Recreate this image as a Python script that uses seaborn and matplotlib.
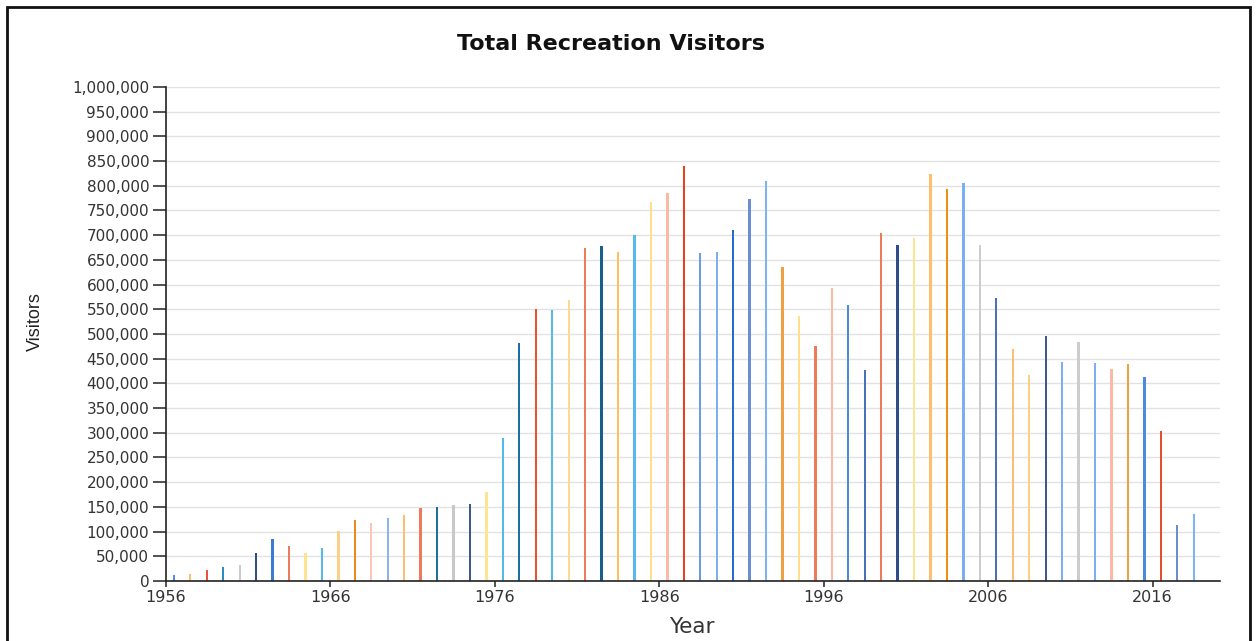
import numpy as np
import pandas as pd
import matplotlib
matplotlib.use("Agg")
import matplotlib.pyplot as plt
from matplotlib.patches import Rectangle
from matplotlib.ticker import FuncFormatter, MultipleLocator
import seaborn as sns

# Annual recreation visits
years = list(range(1956, 2019))
visitors = [
    13000, 15000, 22000, 27500, 32000, 57000, 86000, 71500, 57000, 67500,
    102000, 124000, 117000, 128000, 134500, 148000, 150500, 154500, 156500, 181000,
    289000, 482000, 550500, 549500, 568000, 674500, 677500, 666500, 699500, 767000,
    786000, 841000, 664500, 666500, 711000, 774000, 809000, 635000, 537000, 476000,
    593000, 558000, 426500, 704500, 679500, 693500, 823500, 794500, 805000, 679500,
    572500, 470000, 417000, 495000, 443000, 484500, 441000, 428500, 439000, 413000,
    304000, 114000, 135000,
]

# One colour per year
bar_colors = [
    "#4a8ee8", "#fdbf6f", "#e8553a", "#2b8cbe", "#cccccc", "#2f4f86", "#3a7bd5", "#ec7b5c",
    "#fee391", "#56b8ec", "#fdd08a", "#ea8a1c", "#fcc5b5", "#8ab4f0", "#fdbf6f", "#ec7b5c",
    "#1f6fa0", "#c8c8c8", "#3b5a8a", "#fee391", "#52b9ec", "#1b6fa8", "#f0502a", "#56b8ec",
    "#fdd890", "#ec7b5c", "#1a5f8a", "#fdbf5f", "#56b8ec", "#fde08a", "#fdb9a5", "#e8401a",
    "#6a9be8", "#7ab0f0", "#2a6ad0", "#6a8fcf", "#7ab4f5", "#f0a040", "#fee08a", "#ec7b5c",
    "#fdb9a5", "#4a8be0", "#4a70b8", "#ec7b5c", "#2c4f8a", "#fee391", "#fdbf6f", "#f0900a",
    "#7ab0f0", "#cccccc", "#4a70b8", "#fdbf6f", "#fdd080", "#3b5a8a", "#7ab0f0", "#cccccc",
    "#7ab0f0", "#fdb9a5", "#f0a040", "#4a8be0", "#e05030", "#6a8fcf", "#7ab5f8",
]

df = pd.DataFrame({"year": years, "visitors": visitors})
df["mid_year"] = df["year"] + 0.5
df["label"] = df["year"].astype(str)

sns.set_theme(style="white")
plt.rcParams["font.family"] = ["DejaVu Sans"]

fig = plt.figure(figsize=(12.57, 6.41), dpi=100)
fig.patch.set_facecolor("white")
ax = fig.add_axes([0.1318, 0.0936, 0.8388, 0.7707])

sns.barplot(
    data=df, x="mid_year", y="visitors", hue="label",
    palette=bar_colors, saturation=1, native_scale=True, dodge=False,
    width=0.14, legend=False, errorbar=None, ax=ax, linewidth=0,
)

ax.set_xlim(1956, 2020.1)
ax.set_ylim(0, 1_000_000)
ax.yaxis.set_major_locator(MultipleLocator(50000))
ax.yaxis.set_major_formatter(FuncFormatter(lambda v, p: f"{int(v):,}"))
ax.set_xticks(range(1956, 2017, 10))
ax.xaxis.set_major_formatter(FuncFormatter(lambda v, p: f"{int(round(v))}"))

ax.grid(axis="y", color="#e2e2e2", linewidth=1)
ax.set_axisbelow(True)
for side in ("top", "right"):
    ax.spines[side].set_visible(False)
for side in ("left", "bottom"):
    ax.spines[side].set_color("#222222")
    ax.spines[side].set_linewidth(1.2)

ax.tick_params(axis="y", direction="out", length=9.4, width=1.2, color="#333333",
               labelsize=11, labelcolor="#333333", pad=2.5, left=True)
ax.tick_params(axis="x", direction="out", length=4.3, width=1.2, color="#333333",
               labelsize=11.5, labelcolor="#333333", pad=2, bottom=True)
ax.set_xlabel("")
ax.set_ylabel("")

fig.text(0.486, 0.932, "Total Recreation Visitors", ha="center", va="center",
         fontsize=16, fontweight="bold", color="#111111", family=["DejaVu Sans"])
fig.text(0.0278, 0.498, "Visitors", ha="center", va="center", rotation=90,
         fontsize=13, color="#222222", family=["Liberation Sans", "DejaVu Sans"])
fig.text(0.5505, 0.022, "Year", ha="center", va="center",
         fontsize=15.5, color="#333333", family=["DejaVu Sans"])

# Frame around the chart panel
fig.patches.append(Rectangle((7 / 1257, -0.05), (1250 - 7) / 1257, 1 - 7 / 641 + 0.05,
                             transform=fig.transFigure, fill=False,
                             edgecolor="#111111", linewidth=2))

fig.savefig("out.png", dpi=100)
